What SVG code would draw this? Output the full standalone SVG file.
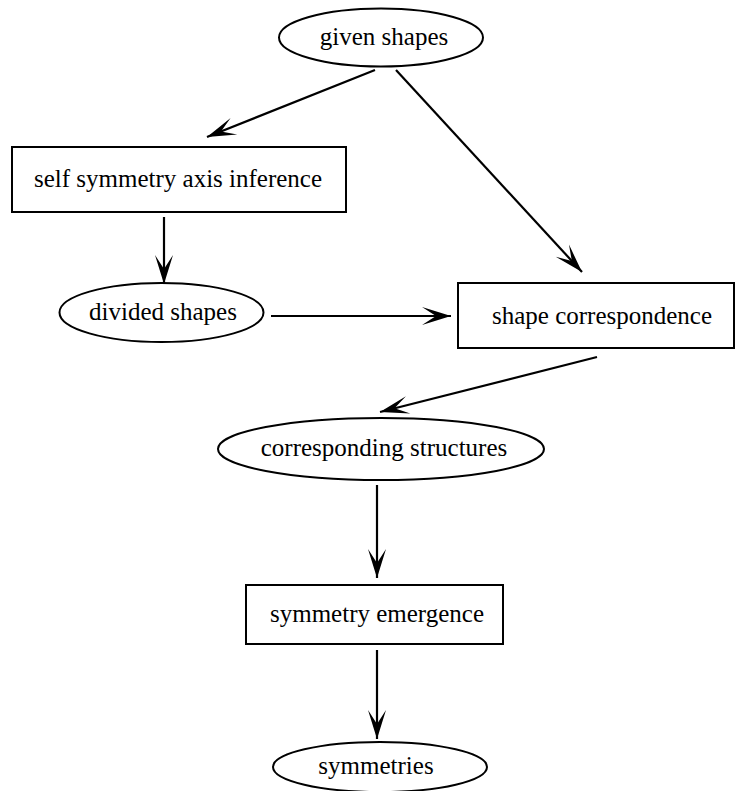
<svg xmlns="http://www.w3.org/2000/svg" width="736" height="791" viewBox="0 0 736 791">
<style>
.n{fill:#fff;stroke:#000;stroke-width:2}
.t{font-family:'Liberation Serif','Times New Roman',Times,serif;font-size:25px;fill:#000;text-anchor:middle}
.e{stroke:#000;stroke-width:2.2;fill:none;marker-end:url(#ah)}
</style>
<defs>
<marker id="ah" markerUnits="userSpaceOnUse" markerWidth="32" markerHeight="22" viewBox="-30 -11 32 22" refX="0" refY="0" orient="auto">
<path d="M0,0 L-29,-9 L-15,0 L-29,9 Z" fill="#000"/>
</marker>
</defs>
<rect width="736" height="791" fill="#fff"/>
<g id="edges">
<line class="e" x1="375" y1="70" x2="207" y2="137"/>
<line class="e" x1="396" y1="70" x2="582" y2="272"/>
<line class="e" x1="164" y1="217" x2="164" y2="284"/>
<line class="e" x1="271" y1="316" x2="451" y2="316"/>
<line class="e" x1="597" y1="357" x2="380" y2="412"/>
<line class="e" x1="377" y1="485" x2="377" y2="578"/>
<line class="e" x1="377" y1="650" x2="377" y2="739"/>
</g>
<g id="given_shapes">
<ellipse class="n" cx="381" cy="37.5" rx="102" ry="29"/>
<text class="t" x="384" y="45">given shapes</text>
</g>
<g id="self_symmetry_axis_inference">
<rect class="n" x="12" y="147" width="334" height="65"/>
<text class="t" x="178" y="187">self symmetry axis inference</text>
</g>
<g id="divided_shapes">
<ellipse class="n" cx="161.5" cy="312.5" rx="102" ry="29.5"/>
<text class="t" x="163" y="320">divided shapes</text>
</g>
<g id="shape_correspondence">
<rect class="n" x="458" y="283" width="276" height="65"/>
<text class="t" x="602" y="324">shape correspondence</text>
</g>
<g id="corresponding_structures">
<ellipse class="n" cx="381" cy="449" rx="163" ry="31"/>
<text class="t" x="384" y="456">corresponding structures</text>
</g>
<g id="symmetry_emergence">
<rect class="n" x="246" y="585" width="257" height="59"/>
<text class="t" x="377" y="622">symmetry emergence</text>
</g>
<g id="symmetries">
<ellipse class="n" cx="380" cy="767" rx="107" ry="25"/>
<text class="t" x="376" y="774">symmetries</text>
</g>
</svg>
